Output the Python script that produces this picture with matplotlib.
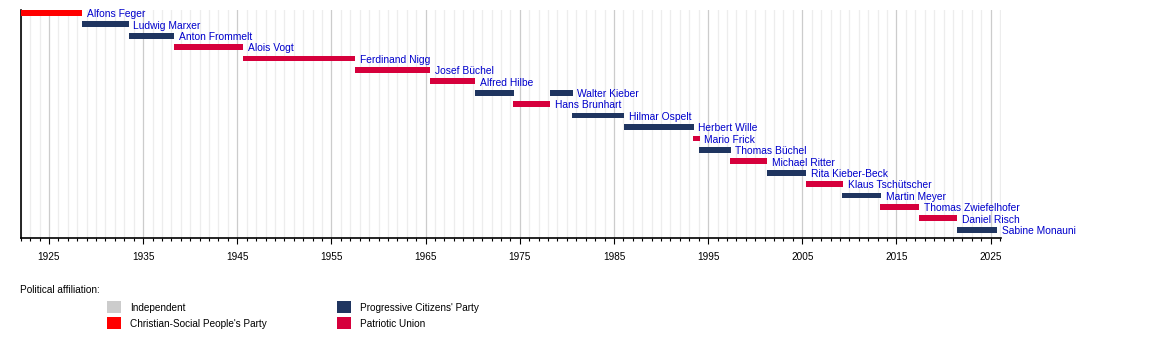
import matplotlib
matplotlib.use("Agg")
import matplotlib.pyplot as plt
from matplotlib.patches import Rectangle
from matplotlib.ticker import MultipleLocator, FixedLocator

plt.rcParams['font.family'] = ['Liberation Sans', 'DejaVu Sans']

# ---- data ----
term_names = ["Alfons Feger", "Ludwig Marxer", "Anton Frommelt", "Alois Vogt",
              "Ferdinand Nigg", "Josef Büchel", "Alfred Hilbe", "Walter Kieber",
              "Hans Brunhart", "Walter Kieber", "Hilmar Ospelt", "Herbert Wille",
              "Mario Frick", "Thomas Büchel", "Michael Ritter", "Rita Kieber-Beck",
              "Klaus Tschütscher", "Martin Meyer", "Thomas Zwiefelhofer",
              "Daniel Risch", "Sabine Monauni"]
term_start = [1922.0, 1928.55, 1933.45, 1938.3, 1945.65, 1957.5, 1965.45, 1970.25,
              1974.3, 1978.25, 1980.55, 1986.05, 1993.4, 1994.05, 1997.35, 2001.25,
              2005.35, 2009.25, 2013.3, 2017.35, 2021.45]
term_end = [1928.55, 1933.45, 1938.3, 1945.65, 1957.5, 1965.45, 1970.25, 1974.35,
            1978.25, 1980.6, 1986.05, 1993.45, 1994.1, 1997.4, 2001.3, 2005.4,
            2009.35, 2013.4, 2017.4, 2021.45, 2025.7]
term_party = ["CSPP", "FBP", "FBP", "VU", "VU", "VU", "VU", "FBP", "VU", "FBP",
              "FBP", "FBP", "VU", "FBP", "VU", "FBP", "VU", "FBP", "VU", "VU", "FBP"]

party_keys = ["IND", "CSPP", "FBP", "VU"]
party_labels = ["Independent", "Christian-Social People's Party",
                "Progressive Citizens' Party", "Patriotic Union"]
party_colors = ["#cccccc", "#ff0000", "#1f3560", "#d6003c"]
color_of = dict(zip(party_keys, party_colors))

x_min, x_max = 1922.0, 2026.1
major_years = list(range(1925, 2026, 10))

# ---- figure ----
W, H = 1150, 338
fig = plt.figure(figsize=(W / 100, H / 100), dpi=100)
ax = fig.add_axes([20.7 / W, 1 - 238.3 / H, (1001 - 20.7) / W, (238.3 - 10) / H])

people = []
for n in term_names:
    if n not in people:
        people.append(n)
row_of = {n: i for i, n in enumerate(people)}
last_end = {}
for n, s, e, p in zip(term_names, term_start, term_end, term_party):
    r = row_of[n]
    ax.barh(r, e - s, left=s, height=0.5, align='edge', color=color_of[p],
            linewidth=0, zorder=3)
    last_end[n] = max(last_end.get(n, e), e)

for n in people:
    ax.text(last_end[n] + 0.5, row_of[n] + 0.36, n, color="#0000cc",
            fontsize=7.4, va='center', ha='left', zorder=4)

ax.set_xlim(x_min, x_max)
ax.set_ylim(len(people), 0)
ax.xaxis.set_major_locator(FixedLocator(major_years))
ax.xaxis.set_minor_locator(MultipleLocator(1))
ax.set_yticks([])
ax.grid(which='minor', axis='x', color='#ededed', linewidth=0.9, zorder=0)
ax.grid(which='major', axis='x', color='#cccccc', linewidth=0.9, zorder=1)
for s in ['top', 'right']:
    ax.spines[s].set_visible(False)
for s in ['left', 'bottom']:
    ax.spines[s].set_color('black')
    ax.spines[s].set_linewidth(1.2)
ax.tick_params(axis='x', which='major', length=4, width=0.8, labelsize=7.2, pad=6)
ax.tick_params(axis='x', which='minor', length=2.5, width=0.8)

# ---- legend ----
fig.text(20 / W, 1 - 290 / H, "Political affiliation:", fontsize=7.2, va='center', ha='left')
leg_pos = [(107.3, 300.7), (107.3, 317.3), (337.3, 300.7), (337.3, 317.3)]
for (px, py), lab, col in zip(leg_pos, party_labels, party_colors):
    fig.patches.append(Rectangle((px / W, 1 - (py + 12) / H), 13.4 / W, 12 / H,
                                 transform=fig.transFigure, facecolor=col,
                                 edgecolor='none'))
    fig.text((px + 22.5) / W, 1 - (py + 7) / H, lab, fontsize=7.2, va='center', ha='left')

fig.savefig("out.png", dpi=100)
